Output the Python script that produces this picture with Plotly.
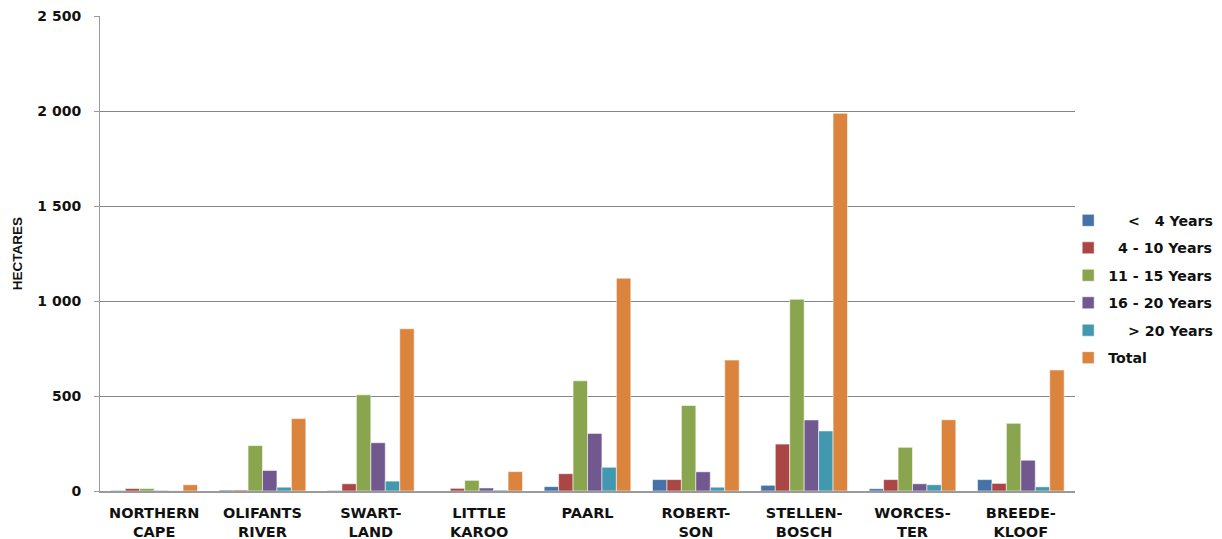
import plotly.graph_objects as go

# Vineyard area by age of vines, per wine district (hectares)
districts = ["NORTHERN<br>CAPE", "OLIFANTS<br>RIVER", "SWART-<br>LAND", "LITTLE<br>KAROO",
             "PAARL", "ROBERT-<br>SON", "STELLEN-<br>BOSCH", "WORCES-<br>TER", "BREEDE-<br>KLOOF"]

under_4 = [3, 5, 3, 0, 23, 60, 30, 12, 60]
yrs_4_10 = [13, 5, 38, 14, 91, 60, 247, 60, 40]
yrs_11_15 = [13, 239, 506, 56, 580, 450, 1009, 230, 356]
yrs_16_20 = [3, 108, 254, 16, 303, 101, 374, 38, 162]
over_20 = [1, 20, 52, 5, 125, 20, 316, 33, 22]
total = [33, 381, 854, 102, 1120, 689, 1988, 375, 637]

NB = "\u00a0"
series = [
    (NB * 4 + "<" + NB * 3 + "4 Years", under_4, "#4572A7"),
    (NB * 2 + "4 - 10 Years", yrs_4_10, "#AA4643"),
    ("11 - 15 Years", yrs_11_15, "#89A54E"),
    ("16 - 20 Years", yrs_16_20, "#71588F"),
    (NB * 4 + "> 20 Years", over_20, "#4198AF"),
    ("Total", total, "#DB843D"),
]

fig = go.Figure()
for i, (name, vals, color) in enumerate(series):
    fig.add_trace(go.Bar(
        x=districts, y=vals, name=name,
        marker=dict(color=color, line=dict(color="rgba(255,255,255,0.55)", width=1)),
        legendgroup=f"g{i}",
    ))

font_main = "DejaVu Sans, Verdana, sans-serif"

fig.update_layout(
    width=1222, height=539,
    paper_bgcolor="white", plot_bgcolor="white",
    margin=dict(l=100, r=147, t=16, b=48, autoexpand=False),
    barmode="group", bargap=0.2, bargroupgap=0,
    separators=". ",
    font=dict(family=font_main, size=14, color="#111111"),
    legend=dict(
        x=0.993, y=0.425, xanchor="left", yanchor="middle",
        font=dict(family=font_main, size=14.2, color="#111111", weight="bold"),
        tracegroupgap=6, itemwidth=30,
        bgcolor="rgba(0,0,0,0)",
    ),
    showlegend=True,
)

fig.update_xaxes(
    showline=True, linecolor="#9a9a9a", linewidth=2,
    ticks="", showgrid=False, ticklabelstandoff=8,
    tickfont=dict(family=font_main, size=14.5, color="#111111", weight="bold"),
)

fig.update_yaxes(
    range=[0, 2500], dtick=500, tickformat=",d",
    showgrid=True, gridcolor="#858585", gridwidth=1.4,
    showline=True, linecolor="#9a9a9a", linewidth=1,
    ticks="outside", ticklen=5, tickcolor="#9a9a9a",
    ticklabelstandoff=10,
    tickfont=dict(family=font_main, size=14, color="#111111", weight="bold"),
    title=dict(text="HECTARES", standoff=11,
               font=dict(family="Liberation Sans Narrow, Liberation Sans, sans-serif",
                         size=13.5, color="#111111", weight="bold")),
    zeroline=False,
)

fig.write_html("out.html")
